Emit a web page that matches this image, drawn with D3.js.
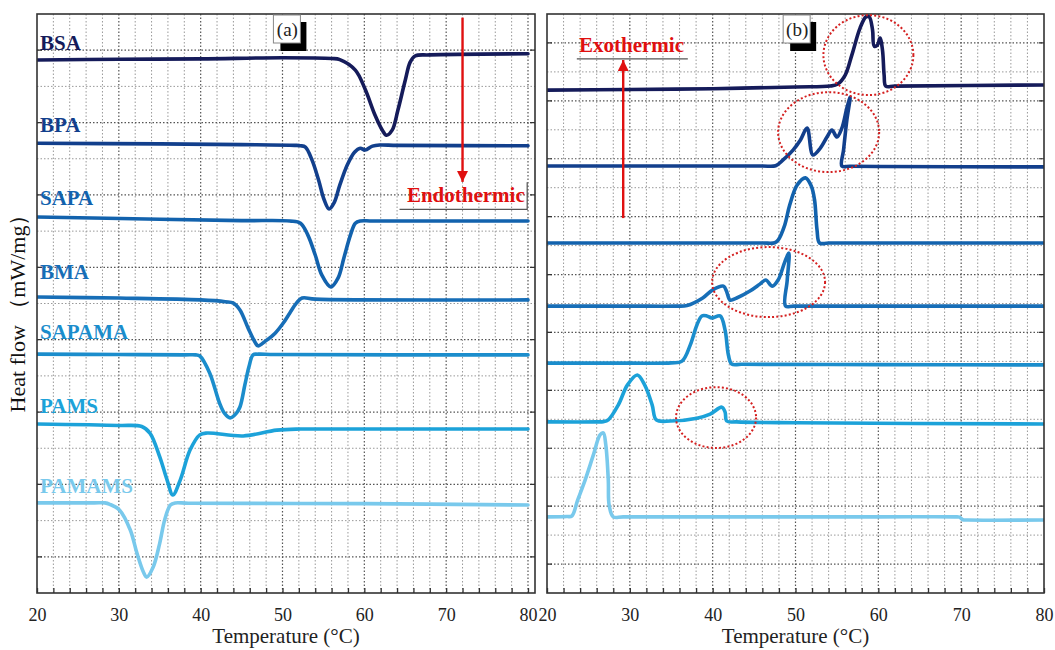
<!DOCTYPE html>
<html>
<head>
<meta charset="utf-8">
<script src="https://cdn.jsdelivr.net/npm/d3@7"></script>
<style>
  body { margin: 0; background: #fff; }
  svg { display: block; }
</style>
</head>
<body>
<svg id="chart" width="1055" height="650"></svg>
<script>
// ---- DSC data: temperature (°C) vs heat flow (stacked, arbitrary offset units) ----
const sampleNames  = ["BSA", "BPA", "SAPA", "BMA", "SAPAMA", "PAMS", "PAMAMS"];
const sampleColors = ["#151b5a", "#123f8c", "#1262ad", "#176eb7", "#1b8dcc", "#1ca2d9", "#79c9ec"];
const xTickValues  = [20, 30, 40, 50, 60, 70, 80];

// (a) heating scans – endothermic melting peaks
const meltBSA = [[20,14.73],[30,14.75],[40,14.76],[50,14.79],[56,14.77],[57,14.74],[58.9,14.45],[60.1,13.92],[61.3,13.21],[62.2,12.79],[62.7,12.65],[63.4,12.79],[64.1,13.34],[65,14.17],[65.6,14.67],[66.2,14.84],[68,14.87],[80,14.9]];
const meltBPA = [[20,12.43],[35,12.41],[45,12.39],[51.5,12.37],[52.2,12.36],[52.8,12.32],[53.6,11.97],[54.4,11.42],[55.1,10.86],[55.7,10.61],[56.3,10.78],[57,11.27],[57.9,11.82],[58.8,12.18],[59.5,12.29],[60.1,12.24],[61,12.35],[61.9,12.38],[64,12.37],[80,12.36]];
const meltSAPA = [[20,10.39],[35,10.33],[45,10.29],[50.9,10.28],[52.2,10.22],[53.1,9.89],[54,9.34],[54.8,8.79],[55.9,8.46],[56.8,8.71],[57.5,9.26],[58.3,9.89],[58.9,10.22],[59.5,10.28],[61,10.28],[80,10.28]];
const meltBMA = [[20,8.18],[30,8.15],[40,8.1],[43,8.05],[44,8.01],[44.8,7.82],[45.8,7.32],[46.7,6.91],[47,6.83],[47.9,6.96],[49.1,7.18],[50.1,7.46],[50.9,7.74],[51.7,8.01],[52.4,8.15],[54,8.12],[80,8.1]];
const meltSAPAMA = [[20,6.6],[30,6.59],[38,6.58],[39.4,6.58],[39.9,6.55],[41.1,6.08],[42.3,5.25],[42.9,4.97],[43.6,4.84],[44.3,4.95],[44.8,5.14],[45.4,5.75],[45.9,6.25],[46.4,6.58],[47,6.6],[49,6.59],[80,6.58]];
const meltPAMS = [[20,4.67],[30,4.63],[32.8,4.6],[33.8,4.42],[35,3.76],[35.9,3.12],[36.6,2.71],[37.5,3.12],[38.7,3.95],[39.9,4.37],[40.8,4.42],[45.2,4.34],[49.3,4.5],[52.2,4.53],[56,4.53],[80,4.53]];
const meltPAMAMS = [[20,2.49],[27,2.49],[28.3,2.49],[28.9,2.45],[30.1,2.29],[31.4,1.74],[32.2,1.11],[33,0.58],[33.4,0.44],[34.2,0.72],[35,1.38],[35.6,2.02],[36.3,2.43],[36.9,2.49],[38.5,2.48],[60,2.47],[80,2.43]];

// (b) cooling scans – exothermic crystallisation peaks
const crysBSA = [[20,17.37],[30,17.39],[40,17.42],[50,17.48],[54.2,17.51],[55.1,17.58],[56,17.89],[56.8,18.58],[57.8,19.52],[58.5,19.9],[58.9,19.9],[59.3,19.45],[59.5,18.89],[59.9,18.93],[60.2,19.17],[60.5,18.76],[60.7,17.89],[60.9,17.51],[62,17.51],[80,17.55]];
const crysBPA = [[20,14.75],[40,14.75],[46,14.75],[47.6,14.76],[48.5,14.96],[49.7,15.3],[50.6,15.65],[51.4,16.06],[52.1,15.13],[53,15.37],[53.8,15.75],[54.4,15.99],[55,15.75],[55.6,16.06],[56.2,16.75],[56.6,17.13],[56.2,16.34],[55.8,15.3],[55.6,14.75],[56.6,14.74],[60,14.73],[80,14.72]];
const crysSAPA = [[20,12.09],[40,12.09],[46,12.09],[47.5,12.1],[47.9,12.19],[48.7,12.71],[49.3,13.4],[50.2,14.09],[51.2,14.34],[51.9,14.06],[52.3,13.58],[52.6,12.54],[52.9,12.09],[54,12.09],[60,12.09],[80,12.09]];
const crysBMA = [[20,9.91],[30,9.91],[35.5,9.91],[36.9,9.93],[38.8,10.19],[40,10.47],[41.3,10.6],[41.7,10.4],[42.1,10.12],[42.9,10.19],[44.5,10.43],[45.7,10.67],[46.4,10.81],[47.2,10.6],[47.9,10.81],[48.7,11.43],[49.2,11.74],[49,10.81],[48.8,9.91],[49.8,9.91],[60,9.91],[80,9.91]];
const crysSAPAMA = [[20,7.94],[30,7.94],[35,7.95],[36.3,8.01],[37.3,8.57],[38.1,9.26],[38.7,9.57],[39.3,9.57],[39.9,9.5],[40.9,9.57],[41.5,9.08],[41.9,8.22],[42.3,7.91],[43.5,7.9],[60,7.89],[80,7.88]];
const crysPAMS = [[20,5.91],[26,5.91],[26.8,5.92],[27.4,5.98],[28.6,6.49],[29.7,7.18],[30.9,7.53],[31.8,7.18],[32.7,6.49],[33.2,5.98],[34.9,5.94],[38.1,6.04],[39.7,6.18],[41.1,6.42],[41.5,6.25],[41.7,5.94],[42.9,5.91],[50,5.88],[80,5.84]];
const crysPAMAMS = [[20,2.63],[22.4,2.64],[23,2.66],[23.7,3.21],[24.6,3.9],[25.6,4.77],[26.4,5.46],[26.8,5.53],[27.1,5.11],[27.4,3.9],[27.5,3.04],[28,2.63],[29.2,2.63],[40,2.63],[60,2.63],[69.2,2.63],[69.8,2.62],[70.2,2.53],[70.8,2.52],[80,2.52]];

const meltCurves = [meltBSA, meltBPA, meltSAPA, meltBMA, meltSAPAMA, meltPAMS, meltPAMAMS];
const crysCurves = [crysBSA, crysBPA, crysSAPA, crysBMA, crysSAPAMA, crysPAMS, crysPAMAMS];
// level (heat-flow units) of each sample name in panel (a)
const nameLabelLevels = [15.0, 12.74, 10.72, 8.68, 7.02, 4.97, 2.76];

// highlighted regions in panel (b): centre T, centre level, half-width (°C), half-height
const highlightT  = [58.8, 54.0, 46.75, 40.41];
const highlightY  = [18.58, 15.92, 10.74, 6.06];
const highlightRT = [5.43, 6.1, 6.82, 4.83];
const highlightRY = [1.38, 1.38, 1.21, 1.05];

// ---- layout ----
const serif = "'Liberation Serif','Times New Roman',Times,serif";
const plotTop = 14, plotBottom = 593;
const svg = d3.select("#chart");

const panels = [
  { id: "a", x0: 37,  x1: 528,  frameX1: 535,  yMax: 16, curves: meltCurves },
  { id: "b", x0: 547, x1: 1044, frameX1: 1044, yMax: 20, curves: crysCurves }
];

panels.forEach(p => {
  p.x = d3.scaleLinear().domain([20, 80]).range([p.x0, p.x1]);
  p.y = d3.scaleLinear().domain([0, p.yMax]).range([plotBottom, plotTop]);
  const g = svg.append("g").attr("class", "panel-" + p.id);

  svg.append("clipPath").attr("id", "clip-" + p.id)
    .append("rect").attr("x", p.x0).attr("y", plotTop)
    .attr("width", p.frameX1 - p.x0).attr("height", plotBottom - plotTop);

  // dotted grid
  const grid = g.append("g");
  const vTicks = d3.range(22, p.id === "a" ? 81 : 80, 2);
  grid.selectAll("line.v").data(vTicks).join("line")
    .attr("x1", d => p.x(d)).attr("x2", d => p.x(d))
    .attr("y1", plotTop).attr("y2", plotBottom)
    .attr("stroke", d => d % 10 === 0 ? "#555" : "#999")
    .attr("stroke-width", d => d % 10 === 0 ? 1.2 : 1)
    .attr("stroke-dasharray", "1.5,2");
  const hTicks = d3.range(1, p.yMax);
  grid.selectAll("line.h").data(hTicks).join("line")
    .attr("x1", p.x0).attr("x2", p.frameX1)
    .attr("y1", d => p.y(d)).attr("y2", d => p.y(d))
    .attr("stroke", d => d % 2 === 1 ? "#555" : "#999")
    .attr("stroke-width", d => d % 2 === 1 ? 1.2 : 1)
    .attr("stroke-dasharray", "1.5,2");

  // small inward ticks on the side borders at major levels
  const sideTicks = hTicks.filter(d => d % 2 === 1);
  g.append("g").selectAll("path").data(sideTicks).join("path")
    .attr("d", d => `M${p.x0},${p.y(d)}h5M${p.frameX1},${p.y(d)}h-5`)
    .attr("stroke", "#333").attr("stroke-width", 1.2);

  // bottom axis
  const axis = d3.axisBottom(p.x)
    .tickValues(d3.range(20, 81, 2))
    .tickSize(-5)
    .tickPadding(15)
    .tickFormat(d => xTickValues.includes(d) ? d : "");
  const ax = g.append("g").attr("transform", `translate(0,${plotBottom})`).call(axis);
  ax.select(".domain").remove();
  ax.selectAll(".tick line").attr("stroke", "#333").attr("stroke-width", 1.3);
  ax.selectAll(".tick text").attr("font-family", serif).attr("font-size", 18).attr("fill", "#222");

  g.append("text")
    .attr("x", (p.x0 + p.frameX1) / 2).attr("y", 643)
    .attr("text-anchor", "middle")
    .attr("font-family", serif).attr("font-size", 21).attr("fill", "#222")
    .text("Temperature (°C)");

  // curves
  const line = d3.line()
    .x(d => p.x(d[0])).y(d => p.y(d[1]))
    .curve(d3.curveCatmullRom.alpha(0.5));
  g.append("g").attr("clip-path", `url(#clip-${p.id})`)
    .selectAll("path").data(p.curves).join("path")
    .attr("d", line)
    .attr("fill", "none")
    .attr("stroke", (d, i) => sampleColors[i])
    .attr("stroke-width", 3.6)
    .attr("stroke-linejoin", "round")
    .attr("stroke-linecap", "round");

  // frame
  g.append("rect")
    .attr("x", p.x0).attr("y", plotTop)
    .attr("width", p.frameX1 - p.x0).attr("height", plotBottom - plotTop)
    .attr("fill", "none").attr("stroke", "#333").attr("stroke-width", 1.6);
});

const A = panels[0], B = panels[1];

// sample names, panel (a)
svg.append("g").selectAll("text").data(sampleNames).join("text")
  .attr("x", A.x0 + 3)
  .attr("y", (d, i) => A.y(nameLabelLevels[i]))
  .attr("font-family", serif).attr("font-weight", "bold").attr("font-size", 21)
  .attr("fill", (d, i) => sampleColors[i])
  .text(d => d);

// panel tags with drop shadow
function panelTag(cx, label) {
  const g = svg.append("g");
  g.append("rect").attr("x", cx - 7).attr("y", 22).attr("width", 26).attr("height", 29).attr("fill", "#000");
  g.append("rect").attr("x", cx - 14).attr("y", 15).attr("width", 27).attr("height", 28)
    .attr("fill", "#fff").attr("stroke", "#888").attr("stroke-width", 1);
  g.append("text").attr("x", cx).attr("y", 36).attr("text-anchor", "middle")
    .attr("font-family", serif).attr("font-size", 19).attr("fill", "#222").text(label);
}
panelTag(A.x(50.6), "(a)");
panelTag(B.x(50.2), "(b)");

// red direction arrows
const red = "#e01010";
svg.append("defs").append("marker")
  .attr("id", "arrowhead").attr("viewBox", "0 0 10 10")
  .attr("refX", 10).attr("refY", 5)
  .attr("markerWidth", 17).attr("markerHeight", 11)
  .attr("markerUnits", "userSpaceOnUse")
  .attr("orient", "auto")
  .append("path").attr("d", "M0,0L10,5L0,10Z").attr("fill", red);

function arrow(x1, y1, x2, y2) {
  svg.append("line")
    .attr("x1", x1).attr("y1", y1).attr("x2", x2).attr("y2", y2)
    .attr("stroke", red).attr("stroke-width", 2.4)
    .attr("marker-end", "url(#arrowhead)");
}
// endothermic: pointing down in (a)
arrow(A.x(72), A.y(15.9), A.x(72), A.y(11.36));
svg.append("path")
  .attr("d", `M${A.x(64.3)},${A.y(10.6)}H${A.x(79.9)}V${A.y(11.35)}`)
  .attr("fill", "none").attr("stroke", "#555").attr("stroke-width", 1.2);
svg.append("text")
  .attr("x", A.x(79.6)).attr("y", A.y(10.8))
  .attr("text-anchor", "end")
  .attr("font-family", serif).attr("font-weight", "bold").attr("font-size", 21)
  .attr("fill", red).text("Endothermic");

// exothermic: pointing up in (b)
arrow(B.x(29.2), B.y(12.95), B.x(29.2), B.y(18.41));
svg.append("line")
  .attr("x1", B.x(23.6)).attr("x2", B.x(37.0))
  .attr("y1", B.y(18.45)).attr("y2", B.y(18.45))
  .attr("stroke", "#555").attr("stroke-width", 1.2);
svg.append("text")
  .attr("x", B.x(30.2)).attr("y", B.y(18.7))
  .attr("text-anchor", "middle")
  .attr("font-family", serif).attr("font-weight", "bold").attr("font-size", 21)
  .attr("fill", red).text("Exothermic");

// dotted ellipses marking the multi-step peaks in (b)
svg.append("g").selectAll("ellipse").data(highlightT).join("ellipse")
  .attr("cx", d => B.x(d))
  .attr("cy", (d, i) => B.y(highlightY[i]))
  .attr("rx", (d, i) => B.x(d + highlightRT[i]) - B.x(d))
  .attr("ry", (d, i) => B.y(0) - B.y(highlightRY[i]))
  .attr("fill", "none").attr("stroke", "#d42020")
  .attr("stroke-width", 2).attr("stroke-dasharray", "2,2.2");

// y-axis title
svg.append("text")
  .attr("transform", `translate(25,308) rotate(-90)`)
  .attr("text-anchor", "middle")
  .attr("font-family", serif).attr("font-size", 22).attr("fill", "#111")
  .text("Heat flow （mW/mg）");
</script>
</body>
</html>
